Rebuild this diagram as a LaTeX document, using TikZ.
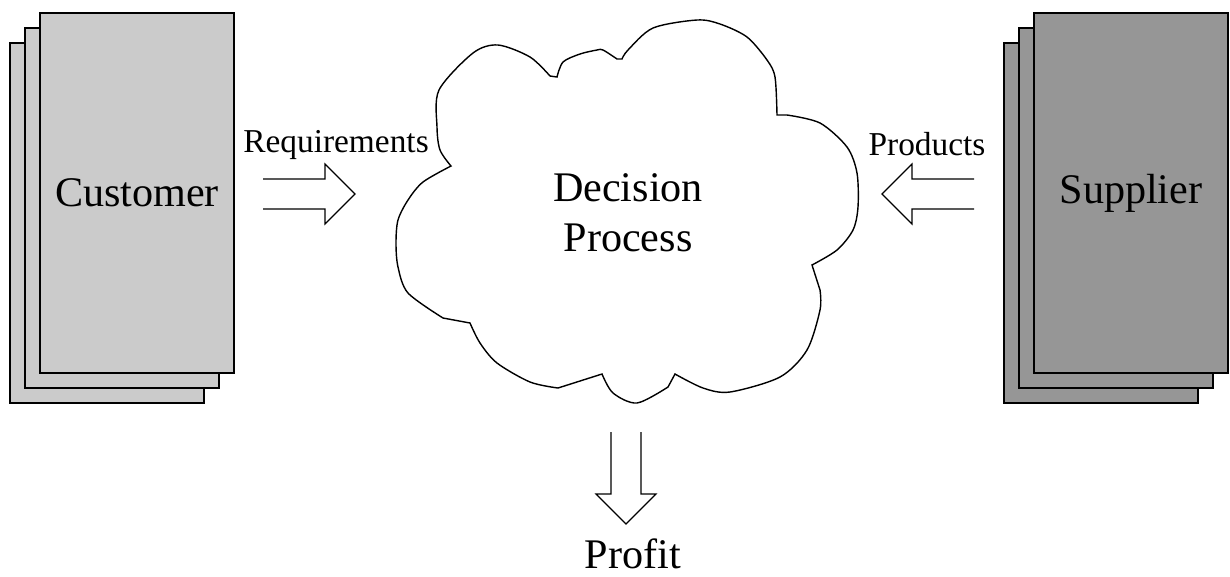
\documentclass[tikz,border=0pt]{standalone}
\usepackage{fontspec}
\setmainfont{Liberation Serif}
\usepackage{xcolor}
\usepackage{tikz}
\definecolor{custgray}{HTML}{CBCBCB}
\definecolor{suppgray}{HTML}{969696}
\tikzset{
  sheet/.style={shape=rectangle,draw=black,line width=0.9pt,minimum width=3.88cm,minimum height=7.2cm,inner sep=0pt},
  bigtext/.style={font=\fontsize{24}{28.5}\selectfont},
  smalltext/.style={font=\fontsize{19}{22}\selectfont},
  hollowarrow/.pic={\draw[line width=0.7pt] (0,-15) -- (62,-15) -- (62,-30) -- (92,0) -- (62,30) -- (62,15) -- (0,15);}
}

\begin{document}
\begin{tikzpicture}[x=0.02cm,y=-0.02cm]
\useasboundingbox (0,0) rectangle (1230,576);

\node[sheet,fill=custgray] (c3) at (107,223) {};
\node[sheet,fill=custgray] (c2) at (122,208) {};
\node[sheet,fill=custgray,bigtext] (c1) at (137,193) {Customer};

\node[sheet,fill=suppgray] (s3) at (1101,223) {};
\node[sheet,fill=suppgray] (s2) at (1116,208) {};
\node[sheet,fill=suppgray,bigtext] (s1) at (1131,193) {Supplier};

\draw[line width=0.8pt,fill=white]
  plot[smooth] coordinates {(451,166) (440,150) (437,127) (439,90) (473,53) (498,45) (530,57) (550,76)}
  -- plot[smooth] coordinates {(557,77) (563,62) (580,54) (597,50) (603,50) (617,59)}
  -- plot[smooth] coordinates {(622,59) (628,50) (653,28) (697,20) (720,24) (747,37) (767,60) (775,77) (777,115)}
  -- plot[smooth] coordinates {(787,115) (820,123) (847,147) (857,173) (858,207) (853,230) (837,250) (812,265)}
  -- plot[smooth] coordinates {(820,290) (820,310) (807,350) (780,377) (730,392) (703,388) (675,374)}
  -- plot[smooth] coordinates {(668,387) (637,403) (613,393) (602,374)}
  -- plot[smooth] coordinates {(558,388) (530,382) (497,363) (480,343) (470,323)}
  -- plot[smooth] coordinates {(443,318) (408,293) (398,267) (396,243) (398,220) (408,200) (423,182) (451,166)}
  -- cycle;
\node[bigtext,align=center] (dp) at (628,213) {Decision\\Process};

\node[smalltext] (req) at (336,145) {Requirements};
\node[smalltext] (prod) at (927,144) {Products};
\node[bigtext,inner sep=0pt] (profit) at (633,554) {Profit};

\coordinate (reqtail) at (263,194);
\coordinate (prodtail) at (974,194);
\coordinate (proftail) at (626,432);
\pic at (reqtail) {hollowarrow};
\pic[rotate=180] at (prodtail) {hollowarrow};
\pic[rotate=-90] at (proftail) {hollowarrow};
\end{tikzpicture}
\end{document}
